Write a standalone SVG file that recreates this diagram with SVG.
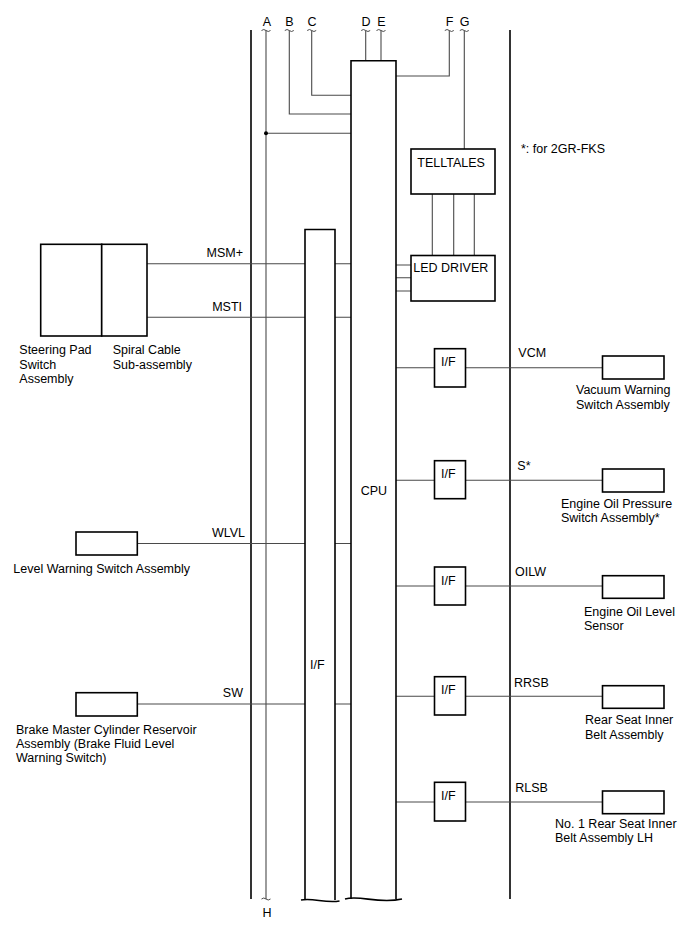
<svg xmlns="http://www.w3.org/2000/svg" width="688" height="949" viewBox="0 0 688 949">
<style>
text{font-family:"Liberation Sans",Arial,sans-serif;font-size:12.5px;fill:#000}
.box{fill:#fff;stroke:#000;stroke-width:1.6}
.bus{fill:none;stroke:#000;stroke-width:1.6}
.w{fill:none;stroke:#4a4a4a;stroke-width:1.1}
.t{fill:none;stroke:#4a4a4a;stroke-width:1}
.e{text-anchor:end}
.m{text-anchor:middle}
</style>
<rect width="688" height="949" fill="#fff"/>
<g id="connectors">
<line class="bus" x1="251" y1="30" x2="251" y2="899"/>
<line class="bus" x1="510" y1="30" x2="510" y2="899"/>
<path class="w" d="M266,30.5V899"/>
<path class="w" d="M289.3,30.5V114H351"/>
<path class="w" d="M311.7,30.5V95.3H351"/>
<path class="w" d="M266,133.3H351"/>
<circle cx="266" cy="133.3" r="2" fill="#000"/>
<path class="w" d="M365.7,30.5V61"/>
<path class="w" d="M381,30.5V61"/>
<path class="w" d="M449.3,30.5V76H396"/>
<path class="w" d="M464.3,30.5V149"/>
<path class="t" d="M261.5,30.5q2.25,-2 4.5,0q2.25,2 4.5,0M284.8,30.5q2.25,-2 4.5,0q2.25,2 4.5,0M307.2,30.5q2.25,-2 4.5,0q2.25,2 4.5,0M361.2,30.5q2.25,-2 4.5,0q2.25,2 4.5,0M376.5,30.5q2.25,-2 4.5,0q2.25,2 4.5,0M444.8,30.5q2.25,-2 4.5,0q2.25,2 4.5,0M459.8,30.5q2.25,-2 4.5,0q2.25,2 4.5,0M261.5,899q2.25,-2 4.5,0q2.25,2 4.5,0"/>
<path class="w" d="M432.3,194V255.5M453.7,194V255.5M474.3,194V255.5"/>
<path class="w" d="M396,265H411M396,277.7H411M396,291H411"/>
<path class="w" d="M147,263.7H305M335,263.7H351"/>
<path class="w" d="M147,317.3H305M335,317.3H351"/>
<path class="w" d="M137.3,543.5H305M335,543.5H351"/>
<path class="w" d="M137.3,704H305M335,704H351"/>
<path class="w" d="M396,367.7H434.5M465.5,367.7H602.5"/>
<path class="w" d="M396,480.3H434.5M465.5,480.3H602.5"/>
<path class="w" d="M396,586H434.5M465.5,586H602.5"/>
<path class="w" d="M396,696.3H434.5M465.5,696.3H602.5"/>
<path class="w" d="M396,802H434.5M465.5,802H602.5"/>
</g>
<g id="labels-top">
<text class="m" x="267" y="26">A</text>
<text class="m" x="289.5" y="26">B</text>
<text class="m" x="312" y="26">C</text>
<text class="m" x="366" y="26">D</text>
<text class="m" x="381.5" y="26">E</text>
<text class="m" x="449.5" y="26">F</text>
<text class="m" x="464.5" y="26">G</text>
<text class="m" x="267" y="917">H</text>
<text x="521" y="153.3">*: for 2GR-FKS</text>
</g>
<g id="cpu">
<path class="box" d="M351,899V60.7H396V899"/>
<path class="bus" d="M345,899C360,894.5 378,904.5 402,899"/>
<text x="360.7" y="495">CPU</text>
</g>
<g id="if-main">
<path class="box" d="M305,900V229.5H335V900"/>
<path class="bus" d="M301,900C313,897.5 325,903.5 339.5,901"/>
<text x="310" y="669.3">I/F</text>
</g>
<g id="telltales">
<rect class="box" x="411" y="149" width="84" height="45"/>
<text x="417.3" y="166.7">TELLTALES</text>
</g>
<g id="led-driver">
<rect class="box" x="411" y="255.5" width="84" height="45.5"/>
<text x="413.3" y="271.7">LED DRIVER</text>
</g>
<g id="steering-pad">
<rect class="box" x="40.7" y="244.3" width="61" height="91.7"/>
<text x="19.3" y="354.3">Steering Pad</text>
<text x="19.3" y="368.5">Switch</text>
<text x="19.3" y="382.7">Assembly</text>
</g>
<g id="spiral-cable">
<rect class="box" x="101.7" y="244.3" width="45.3" height="91.7"/>
<text x="112.7" y="354.3">Spiral Cable</text>
<text x="112.7" y="368.5">Sub-assembly</text>
</g>
<g id="sig-left">
<text class="e" x="243" y="256.7">MSM+</text>
<text class="e" x="242" y="310.7">MSTI</text>
<text class="e" x="245" y="536.7">WLVL</text>
<text class="e" x="243" y="696.7">SW</text>
</g>
<g id="level-warning">
<rect class="box" x="76" y="532" width="61.3" height="23"/>
<text x="13.3" y="572.7">Level Warning Switch Assembly</text>
</g>
<g id="brake-master">
<rect class="box" x="76" y="692.7" width="61.3" height="23.3"/>
<text x="16" y="734">Brake Master Cylinder Reservoir</text>
<text x="16" y="748.2">Assembly (Brake Fluid Level</text>
<text x="16" y="762.4">Warning Switch)</text>
</g>
<g id="if-vcm">
<rect class="box" x="434.5" y="348.7" width="31" height="38.3"/>
<text x="441" y="365.7">I/F</text>
<text x="518.3" y="356.7">VCM</text>
</g>
<g id="vacuum-warning">
<rect class="box" x="602.5" y="356" width="61.5" height="23"/>
<text x="576" y="394">Vacuum Warning</text>
<text x="576" y="408.5">Switch Assembly</text>
</g>
<g id="if-s">
<rect class="box" x="434.5" y="460.7" width="31" height="38"/>
<text x="441" y="478.3">I/F</text>
<text x="517.3" y="470">S*</text>
</g>
<g id="oil-pressure">
<rect class="box" x="602.5" y="469" width="61.5" height="23"/>
<text x="561" y="507.7">Engine Oil Pressure</text>
<text x="561" y="522">Switch Assembly*</text>
</g>
<g id="if-oilw">
<rect class="box" x="434.5" y="567" width="31" height="38"/>
<text x="441" y="584.5">I/F</text>
<text x="515" y="576">OILW</text>
</g>
<g id="oil-level">
<rect class="box" x="602.5" y="575.7" width="61.5" height="22.6"/>
<text x="584" y="616">Engine Oil Level</text>
<text x="584" y="630">Sensor</text>
</g>
<g id="if-rrsb">
<rect class="box" x="434.5" y="676.7" width="31" height="38.3"/>
<text x="441" y="694.3">I/F</text>
<text x="514" y="686.7">RRSB</text>
</g>
<g id="rear-seat">
<rect class="box" x="602.5" y="685.7" width="61.5" height="22.6"/>
<text x="585" y="724.3">Rear Seat Inner</text>
<text x="585" y="738.7">Belt Assembly</text>
</g>
<g id="if-rlsb">
<rect class="box" x="434.5" y="782.3" width="31" height="38.7"/>
<text x="441" y="800">I/F</text>
<text x="515.3" y="791.7">RLSB</text>
</g>
<g id="rear-seat-lh">
<rect class="box" x="602.5" y="791" width="61.5" height="22.7"/>
<text x="555" y="827.7">No. 1 Rear Seat Inner</text>
<text x="555" y="842">Belt Assembly LH</text>
</g>
</svg>
